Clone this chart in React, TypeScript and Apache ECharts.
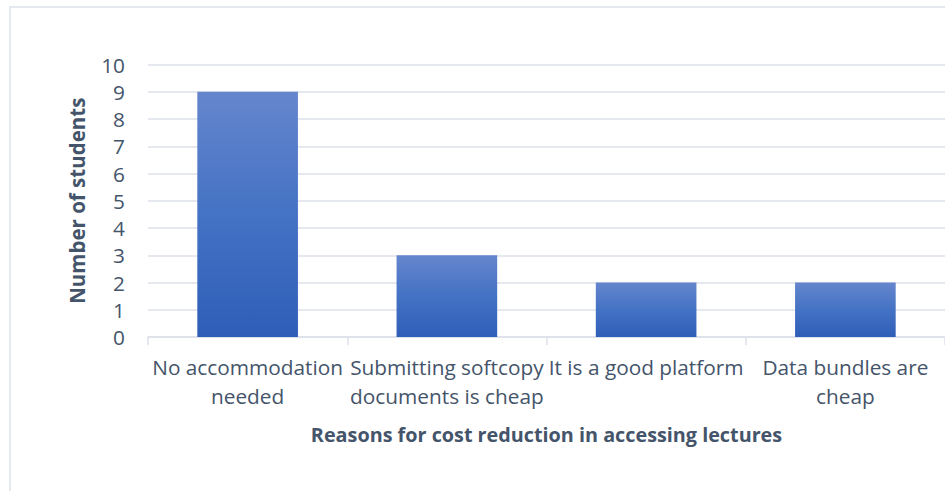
import React, { useEffect, useRef } from "react";
import * as echarts from "echarts";

const categories = [
  "No accommodation\nneeded",
  "Submitting softcopy\ndocuments is cheap",
  "It is a good platform",
  "Data bundles are\ncheap",
];
const values = [9, 3, 2, 2];
const xTitle = "Reasons for cost reduction in accessing lectures";
const yTitle = "Number of students";

const textColor = "#44546a";
const gridColor = "#dde1e8";
const font = "'Open Sans', sans-serif";

export default function App() {
  const ref = useRef<HTMLDivElement>(null);
  useEffect(() => {
    if (!ref.current) return;
    const chart = echarts.init(ref.current, null, { renderer: "svg" });
    chart.setOption({
      animation: false,
      backgroundColor: "#ffffff",
      textStyle: { fontFamily: font },
      graphic: [
        {
          type: "rect",
          shape: { x: 10, y: 7, width: 1000, height: 1000 },
          style: { fill: "none", stroke: "#dde2ea", lineWidth: 1.5 },
          silent: true,
        },
      ],
      grid: { left: 148, top: 64.5, width: 800, height: 272.5 },
      xAxis: {
        type: "category",
        data: categories,
        name: xTitle,
        nameLocation: "middle",
        nameGap: 87,
        nameTextStyle: { color: textColor, fontSize: 19.8, fontWeight: "bold", fontFamily: font },
        axisLine: { lineStyle: { color: gridColor, width: 1.5 } },
        axisTick: { show: true, length: 8, lineStyle: { color: gridColor, width: 1.5 } },
        axisLabel: {
          interval: 0,
          color: textColor,
          fontSize: 20.8,
          lineHeight: 29,
          margin: 15,
          fontFamily: font,
        },
      },
      yAxis: {
        type: "value",
        min: 0,
        max: 10,
        interval: 1,
        name: yTitle,
        nameLocation: "middle",
        nameGap: 61,
        nameTextStyle: { color: textColor, fontSize: 20.5, fontWeight: "bold", fontFamily: font },
        axisLine: { show: false },
        axisTick: { show: false },
        axisLabel: { color: textColor, fontSize: 20.8, margin: 23, fontFamily: font },
        splitLine: { lineStyle: { color: gridColor, width: 1.5 } },
      },
      series: [
        {
          type: "bar",
          data: values,
          barCategoryGap: "49.5%",
          itemStyle: {
            color: new echarts.graphic.LinearGradient(0, 0, 0, 1, [
              { offset: 0, color: "#6586cd" },
              { offset: 0.5, color: "#4472c4" },
              { offset: 1, color: "#2f5eb8" },
            ]),
          },
        },
      ],
    });
    return () => chart.dispose();
  }, []);
  return (
    <div
      ref={ref}
      style={{ position: "absolute", left: 0, top: 0, width: 945, height: 491 }}
    />
  );
}
